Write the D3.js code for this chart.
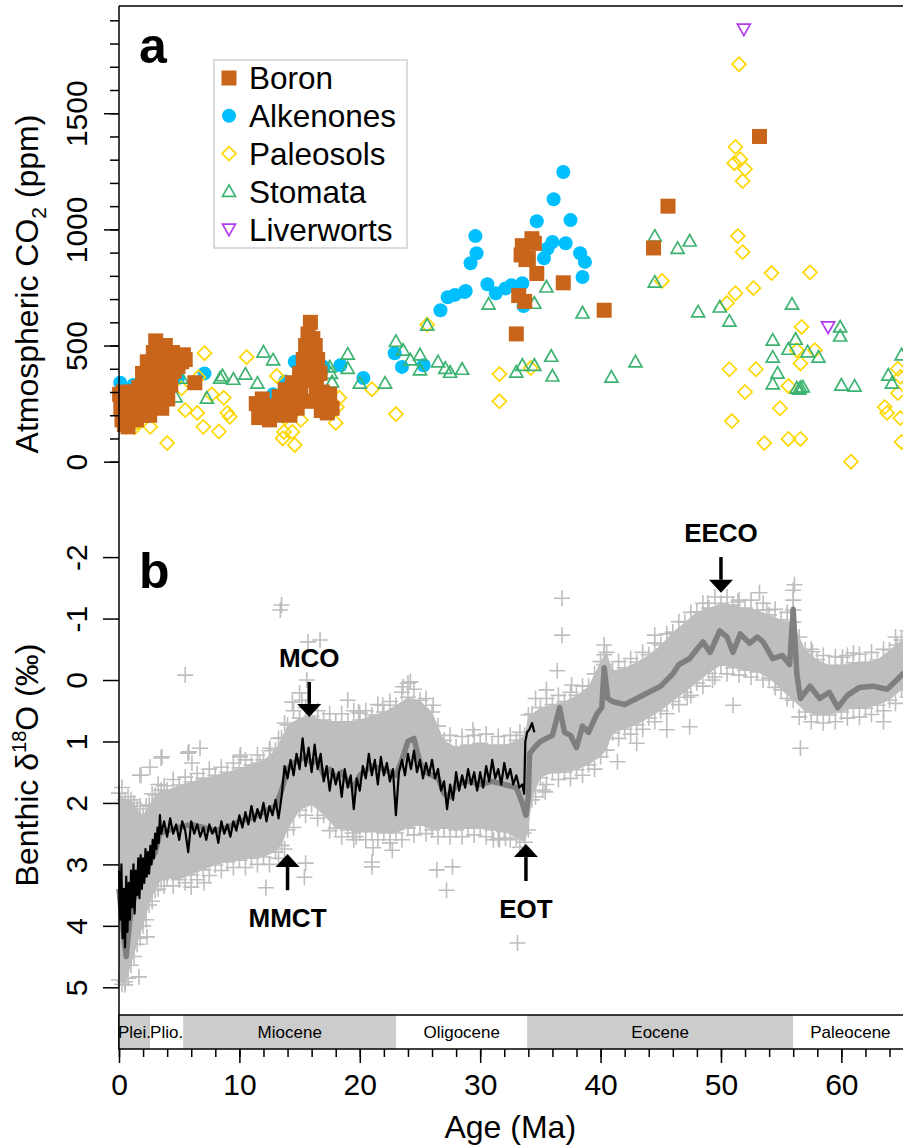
<!DOCTYPE html>
<html>
<head>
<meta charset="utf-8">
<title>Cenozoic CO2 and benthic d18O</title>
<script src="https://d3js.org/d3.v7.min.js"></script>
<style>
  html, body { margin: 0; padding: 0; background: #fff; }
  svg { display: block; font-family: 'Liberation Sans', Arial, Helvetica, sans-serif; }
</style>
</head>
<body>
<div id="chart"></div>
<script>
'use strict';

// ---- panel a: CO2 proxies, [age (Ma), CO2 (ppm)]
var boron = [
  [0.05,290],[0.15,230],[0.25,180],[0.35,300],[0.45,160],[0.55,260],[0.65,200],[0.75,150],
  [0.85,280],[0.95,240],[1.05,190],[1.15,300],[1.25,210],[1.35,270],[1.45,180],[1.55,250],
  [1.65,320],[1.75,220],[1.85,280],[1.95,380],[2.05,200],[2.15,330],[2.25,260],[2.35,430],
  [2.45,300],[2.55,200],[2.65,370],[2.75,250],[2.85,470],[2.95,320],[3.05,520],[3.15,410],
  [3.25,280],[3.35,480],[3.45,360],[3.55,230],[3.65,440],[3.75,310],[3.85,500],[3.95,380],
  [4.05,270],[4.15,420],[4.3,330],[4.45,470],[4.6,390],[4.75,440],[4.9,410],[5.05,450],
  [5.2,430],[5.35,460],[5.5,440],[6.3,340],
  [11.4,250],[11.6,190],[11.9,270],[12.2,210],[12.5,180],[12.8,240],[13.0,200],[13.3,280],
  [13.5,230],[13.8,310],[14.0,250],[14.2,200],[14.4,340],[14.6,280],[14.8,230],[15.0,380],
  [15.1,300],[15.3,440],[15.4,260],[15.5,500],[15.6,350],[15.7,550],[15.8,420],[15.9,600],
  [16.0,470],[16.1,530],[16.2,380],[16.3,500],[16.4,320],[16.5,440],[16.6,260],[16.7,380],
  [16.8,220],[16.9,300],[17.1,250],[17.3,210],[17.5,290],[17.7,230],
  [33.0,550],[33.2,715],[33.4,890],[33.5,930],[33.7,690],[33.8,870],[34.0,875],[34.3,960],
  [34.5,940],[34.7,810],[36.9,770],[40.3,652],[44.4,920],[45.6,1100],[53.2,1400]
];
var alkenones = [
  [0.1,340],[0.15,250],[0.4,300],[1.2,330],[1.0,260],[4.9,360],[5.2,460],[7.1,380],
  [12.8,290],[13.8,345],[14.6,430],[17.0,408],[18.4,415],[20.3,360],[22.9,467],[23.5,408],
  [25.3,415],[26.7,652],[27.3,708],[27.9,718],[28.7,730],[28.8,735],[29.2,854],[29.7,897],
  [29.6,971],[30.6,764],[31.3,725],[32.1,746],[32.6,760],[33.5,768],[33.6,670],[35.3,876],
  [35.6,918],[36.0,946],[34.7,1035],[36.1,1130],[36.9,1247],[37.1,940],[37.5,1040],
  [38.3,897],[38.7,860],[38.5,795]
];
var paleosols = [
  [0.3,180],[0.6,150],[1.3,148],[1.5,170],[2.0,200],[2.6,150],[4.0,80],[5.2,316],[5.5,222],
  [6.5,210],[6.6,364],[7.1,467],[7.0,150],[7.7,290],[8.3,130],[8.7,275],[9.0,210],[9.2,193],
  [10.6,450],[13.1,369],[13.2,235],[13.8,188],[13.7,128],[14.4,128],[14.6,72],[13.6,100],
  [15.1,180],[18.1,235],[18.3,275],[18.0,167],[17.5,265],[21.0,312],[23.0,205],[25.6,590],
  [31.6,377],[31.6,260],[34.2,403],[45.1,778],[50.5,683],[51.2,725],[52.7,747],[54.2,812],
  [57.4,815],[56.7,580],[50.7,398],[52.9,398],[52.0,300],[54.9,230],[50.9,175],[53.6,80],
  [55.6,98],[56.6,98],[60.8,0],[55.6,326],[56.6,423],[57.8,480],[56.3,480],[63.6,235],
  [63.8,210],[64.7,400],[64.9,365],[64.7,295],[64.9,188],[65.0,85],[51.5,1711],[51.2,1355],
  [51.6,1302],[51.1,1285],[52.0,1260],[51.8,1208],[51.4,971],[51.8,902]
];
var stomata = [
  [4.7,279],[5.2,360],[7.3,274],[8.4,360],[8.6,370],[9.5,355],[10.5,377],[11.5,338],
  [12.0,472],[12.8,438],[15.6,480],[17.5,408],[17.7,343],[17.6,380],[19.0,463],[19.0,402],
  [20.0,338],[22.1,338],[23.0,518],[23.6,480],[24.2,438],[25.0,460],[25.0,395],[25.6,588],
  [26.5,430],[27.1,402],[28.5,398],[27.5,385],[30.7,678],[34.5,682],[35.5,752],[38.5,640],
  [44.5,773],[44.5,971],[46.4,918],[47.4,950],[48.1,645],[49.9,666],[50.7,605],[55.9,678],
  [59.9,580],[59.9,541],[33.5,415],[34.5,415],[33.0,386],[35.9,454],[36.0,369],[40.9,364],
  [42.9,430],[54.3,523],[54.3,450],[54.7,381],[54.3,335],[56.2,527],[55.6,484],[57.2,473],
  [58.1,450],[56.3,317],[56.6,320],[56.8,322],[56.5,312],[60.0,330],[61.1,325],[63.9,373],
  [64.2,338],[65.0,460]
];
var liverworts = [[51.9,1862],[58.9,580]];

var co2Ticks = [0, 500, 1000, 1500];

// ---- panel b: benthic d18O, [age (Ma), permil]
// edge of the dense cloud of single measurements
var cloudAge = [0,0.5,1,1.5,2,2.5,3,3.5,4,5,6,7,8,9,10,11,12,13,13.5,14,15,16,17,18,19,20,21,22,
  23,24,25,26,27,28,29,30,31,32,33,33.7,34,34.3,35,36,37,38,39,40,40.5,41,42,43,44,45,46,47,
  48,49,50,51,52,53,54,55,56,57,58,59,60,61,62,63,64,65,66];
var cloudTop = [1.84,1.95,1.95,2.1,2.2,2.03,1.87,1.79,1.79,1.71,1.66,1.6,1.55,1.5,1.43,1.38,1.3,
  1.14,0.94,0.73,0.62,0.59,0.65,0.68,0.68,0.65,0.57,0.52,0.41,0.28,0.33,0.52,0.98,1.09,1.06,
  1.03,1.06,1.06,0.98,0.9,0.57,0.55,0.45,0.4,0.35,0.25,0.1,-0.3,-0.45,-0.15,-0.2,-0.29,-0.41,
  -0.57,-0.78,-0.94,-1.11,-1.17,-1.25,-1.22,-1.17,-1.14,-1.06,-0.98,-0.94,-0.49,-0.33,-0.24,
  -0.24,-0.28,-0.29,-0.33,-0.49,-0.65,-0.73];
var cloudBot = [4.88,4.96,4.64,4.3,4.0,3.66,3.42,3.25,3.22,3.25,3.17,3.09,3.01,2.96,2.93,2.9,
  2.88,2.8,2.69,2.44,2.12,2.03,2.2,2.41,2.44,2.47,2.47,2.49,2.49,2.41,2.36,2.44,2.41,2.44,
  2.41,2.41,2.44,2.47,2.57,2.64,2.44,1.95,1.59,1.51,1.5,1.46,1.38,1.25,1.14,0.86,0.8,0.73,
  0.62,0.5,0.35,0.2,0.05,-0.11,-0.24,-0.2,-0.16,-0.13,-0.03,0.16,0.33,0.52,0.57,0.57,0.52,
  0.46,0.46,0.41,0.33,0.16,0.13];
// ragged fringe of crosses just outside the dense cloud
var fringeAge = [0.25,0.75,1.25,1.75,2.25,2.75,3.25,3.75,4.5,5.5,6.5,7.5,8.5,9.5,10.5,11.5,12.5,
  13.25,13.75,14.5,15.5,16.5,17.5,18.5,19.5,20.5,21.5,22.5,23.5,24.5,25.5,26.5,27.5,28.5,29.5,
  30.5,31.5,32.5,33.3,34.6,35.5,36.5,37.5,38.5,39.5,41.5,42.5,43.5,44.5,45.5,46.5,47.5,48.5,
  49.5,50.5,51.5,52.5,53.5,54.5,55.5,56.5,57.5,58.5,59.5,60.5,61.5,62.5,63.5,64.5,65.5];
var fringeTop = [1.75,1.9,2.0,2.05,2.05,1.85,1.7,1.72,1.62,1.58,1.52,1.45,1.42,1.35,1.3,1.22,1.15,
  0.95,0.7,0.5,0.45,0.5,0.55,0.55,0.5,0.5,0.4,0.35,0.2,0.15,0.3,0.75,0.9,0.92,0.9,0.88,0.92,
  0.9,0.85,0.3,0.3,0.25,0.2,0.1,-0.1,-0.3,-0.35,-0.45,-0.6,-0.75,-0.95,-1.1,-1.25,-1.35,
  -1.35,-1.3,-1.3,-1.25,-1.15,-1.1,-0.7,-0.5,-0.4,-0.38,-0.4,-0.42,-0.45,-0.5,-0.7,-0.8];
var fringeBot = [4.95,4.85,4.5,4.2,3.9,3.6,3.4,3.35,3.35,3.3,3.25,3.18,3.1,3.05,3.05,3.0,3.0,
  2.9,2.75,2.4,2.2,2.25,2.45,2.55,2.6,2.6,2.6,2.6,2.6,2.52,2.5,2.55,2.55,2.55,2.52,2.55,2.58,
  2.6,2.72,1.9,1.7,1.62,1.6,1.55,1.45,0.95,0.88,0.8,0.68,0.55,0.4,0.25,0.1,-0.05,-0.1,-0.08,
  -0.05,0.0,0.12,0.3,0.6,0.68,0.7,0.68,0.62,0.6,0.56,0.5,0.38,0.28];
// single measurements lying well outside the dense cloud
var crossOut = [
  [13.4,-1.14],[13.5,-1.22],[15.7,-0.62],[16.7,-0.65],[5.5,-0.08],[15.6,0.0],[15.0,0.21],
  [14.4,0.36],[19.0,0.33],[19.9,0.52],[21.9,0.41],[23.6,0.11],[24.0,0.05],[26.1,0.41],
  [1.74,1.55],[2.57,1.42],[3.57,1.25],[5.73,1.19],[6.73,1.11],[6.06,1.35],[10.05,1.25],
  [12.54,1.11],[11.7,1.35],[36.8,-1.33],[36.8,-0.73],[36.4,-0.15],[37.6,0.08],[35.5,0.16],
  [44.5,-0.73],[53.2,-1.42],[53.8,-1.14],[56.1,-1.55],[51.4,-1.27],[48.9,-1.25],[56.6,1.11],
  [51.0,0.41],[49.3,0.0],[47.2,0.28],[47.4,0.76],[45.5,0.81],[43.0,1.03],[41.4,1.33],
  [35.2,1.79],[61.0,-0.44],[63.5,0.68],[64.6,-0.57],[60.1,-0.37],[57.6,-0.46],[20.0,0.54],
  [24.2,0.03],[21.0,3.04],[21.1,2.73],[22.5,2.65],[26.4,3.09],[27.7,3.04],[19.4,2.49],
  [31.6,2.6],[33.6,2.49],[29.4,0.81],[3.49,1.27],[1.83,1.55],[5.8,1.17],[10.1,1.22],
  [15.2,0.33],[1.66,4.83],[2.33,4.18],[6.0,3.37],[7.06,3.3],[12.2,3.38],[15.4,3.21],
  [15.5,2.98],[21.0,2.96],[19.7,2.55],[22.7,2.77],[0.5,4.91],[27.2,3.42],[35.4,1.82],
  [33.1,4.28],[32.1,2.57],[31.1,2.6],[40.3,-0.57],[40.3,-0.41],[40.3,-0.25],[56.0,-1.46],
  [56.0,-1.3],[56.0,-1.14]
];
// smoothed record (dark grey)
var smooth = [
  [0,3.4],[0.3,4.0],[0.6,4.5],[0.9,3.9],[1.2,3.6],[1.6,3.3],[2.0,3.2],[2.5,3.0],[3.0,2.8],
  [3.4,2.5],[4.0,2.45],[5.0,2.4],[6.0,2.35],[7.0,2.4],[8.0,2.45],[9.0,2.4],[10.0,2.3],
  [11.0,2.25],[12.0,2.15],[13.0,2.05],[13.5,1.8],[14.0,1.45],[14.5,1.35],[15.0,1.3],
  [15.5,1.25],[16.0,1.35],[16.5,1.3],[17.0,1.55],[17.5,1.45],[18.0,1.6],[18.5,1.5],
  [19.0,1.65],[19.5,1.75],[20.0,1.55],[21.0,1.4],[22.0,1.45],[23.0,1.55],[23.5,1.3],
  [24.0,1.0],[24.5,0.95],[25.0,1.35],[25.5,1.5],[26.0,1.55],[26.5,1.6],[27.0,1.85],
  [27.5,1.9],[28.0,1.7],[29.0,1.65],[30.0,1.7],[31.0,1.65],[32.0,1.7],[33.0,1.75],
  [33.5,2.0],[33.8,2.2],[34.0,1.9],[34.1,1.2],[34.5,1.1],[35.0,1.0],[35.5,0.95],[36.0,0.9],
  [36.6,0.45],[37.0,0.85],[37.5,0.9],[38.0,1.1],[38.5,0.75],[39.0,0.85],[39.7,0.55],
  [40.1,0.45],[40.3,-0.2],[40.6,0.3],[41.0,0.35],[42.0,0.4],[43.0,0.3],[44.0,0.2],[45.0,0.1],
  [46.0,-0.1],[46.5,-0.25],[47.4,-0.35],[48.0,-0.5],[48.5,-0.62],[49.1,-0.45],[49.9,-0.8],
  [50.5,-0.7],[51.0,-0.45],[51.6,-0.75],[52.4,-0.6],[53.0,-0.7],[53.5,-0.62],[54.3,-0.35],
  [55.1,-0.4],[55.7,-0.25],[56.0,-1.15],[56.3,-0.1],[56.6,0.3],[57.4,0.1],[58.2,0.3],
  [59.0,0.2],[59.7,0.45],[60.5,0.25],[61.5,0.12],[62.6,0.1],[63.8,0.15],[64.6,0.0],
  [65.1,-0.1],[66,-0.15]
];
// high resolution record (black), 0-34.5 Ma
var highRes = [
  [0.0,3.1],[0.1,3.9],[0.2,3.0],[0.3,4.2],[0.4,3.4],[0.5,4.35],[0.6,3.2],[0.7,4.1],[0.8,3.3],
  [0.9,3.9],[1.0,3.1],[1.1,3.7],[1.2,3.0],[1.3,3.8],[1.4,3.1],[1.5,3.5],[1.6,2.9],[1.7,3.55],
  [1.8,2.85],[1.9,3.4],[2.0,2.9],[2.1,3.3],[2.2,2.75],[2.3,3.2],[2.4,2.8],[2.5,3.15],
  [2.6,2.7],[2.7,3.0],[2.8,2.6],[2.9,2.9],[3.0,2.5],[3.1,2.75],[3.2,2.4],[3.3,2.65],
  [3.4,2.2],[3.5,2.5],[3.75,2.3],[4.0,2.55],[4.25,2.25],[4.5,2.5],[4.75,2.35],[5.0,2.6],
  [5.25,2.3],[5.5,2.45],[5.75,2.8],[6.0,2.3],[6.25,2.5],[6.5,2.35],[6.75,2.55],[7.0,2.4],
  [7.25,2.6],[7.5,2.35],[7.75,2.5],[8.0,2.4],[8.25,2.65],[8.5,2.3],[8.75,2.5],[9.0,2.35],
  [9.25,2.55],[9.5,2.3],[9.75,2.45],[10.0,2.2],[10.25,2.4],[10.5,2.15],[10.75,2.35],
  [11.0,2.05],[11.25,2.3],[11.5,2.1],[11.75,2.25],[12.0,2.0],[12.25,2.3],[12.5,2.05],
  [12.75,2.2],[13.0,1.95],[13.25,2.25],[13.5,1.9],[13.75,1.4],[14.0,1.6],[14.25,1.3],
  [14.5,1.55],[14.75,1.2],[15.0,1.45],[15.25,0.95],[15.5,1.4],[15.75,1.1],[16.0,1.5],
  [16.25,1.05],[16.5,1.45],[16.75,1.2],[17.0,1.65],[17.25,1.4],[17.5,1.8],[17.75,1.45],
  [18.0,1.7],[18.25,1.5],[18.5,1.9],[18.75,1.45],[19.0,1.75],[19.25,1.55],[19.5,2.1],
  [19.75,1.6],[20.0,1.8],[20.25,1.4],[20.5,1.6],[20.75,1.2],[21.0,1.55],[21.25,1.3],
  [21.5,1.7],[21.75,1.25],[22.0,1.55],[22.25,1.35],[22.5,1.65],[22.75,1.45],[23.0,2.2],
  [23.25,1.5],[23.5,1.3],[23.75,1.55],[24.0,1.2],[24.25,1.45],[24.5,1.15],[24.75,1.5],
  [25.0,1.3],[25.25,1.6],[25.5,1.35],[25.75,1.55],[26.0,1.3],[26.25,1.6],[26.5,1.45],
  [26.75,1.8],[27.0,1.65],[27.25,2.1],[27.5,1.7],[27.75,1.95],[28.0,1.5],[28.25,1.8],
  [28.5,1.55],[28.75,1.75],[29.0,1.45],[29.25,1.7],[29.5,1.5],[29.75,1.8],[30.0,1.5],
  [30.25,1.75],[30.5,1.4],[30.75,1.65],[31.0,1.3],[31.25,1.6],[31.5,1.45],[31.75,1.7],
  [32.0,1.35],[32.25,1.6],[32.5,1.45],[32.75,1.7],[33.0,1.55],[33.25,1.75],[33.5,1.7],
  [33.65,1.85],[33.75,1.0],[33.9,0.85],[34.1,0.8],[34.3,0.7],[34.5,0.85]
];
var d18oTicks = [-2, -1, 0, 1, 2, 3, 4, 5];

// events: label, age, arrow tail, arrow tip (permil)
var eventNames = ['MCO', 'EECO', 'MMCT', 'EOT'];
var eventAges = [15.8, 50.0, 14.0, 33.8];
var eventTail = [0.03, -2.0, 3.42, 3.27];
var eventTip = [0.60, -1.42, 2.83, 2.67];

// ---- time scale
var epochNames = ['Plei.', 'Plio.', 'Miocene', 'Oligocene', 'Eocene', 'Paleocene'];
var epochBounds = [0, 2.58, 5.33, 23.03, 33.9, 56, 65.5];
var ageTicks = [0, 10, 20, 30, 40, 50, 60];

var W = 903, H = 1146;
var svg = d3.select('#chart').append('svg').attr('width', W).attr('height', H);

var x = d3.scaleLinear().domain([0, 66]).range([119, 913.6]);
var yA = d3.scaleLinear().domain([0, 1900]).range([461.7, 20.3]);
var yB = d3.scaleLinear().domain([-2, 5]).range([557.1, 987.3]);

var COLORS = {
  boron: '#c8651b', alk: '#00bfff', paleo: '#ffd700', stom: '#3cb371',
  liver: '#b23aee', cross: '#bebebe', smooth: '#7f7f7f'
};

/**
 * Panel b: cloud, crosses, smoothed and high-res records
 */
var gB = svg.append('g');

var cloud = cloudAge.map(function(a, i) { return [a, cloudTop[i], cloudBot[i]]; });
gB.append('path')
  .datum(cloud)
  .attr('fill', COLORS.cross)
  .attr('d', d3.area()
    .x(function(d) { return x(d[0]); })
    .y0(function(d) { return yB(d[2]); })
    .y1(function(d) { return yB(d[1]); }));

var allCrosses = cloud.map(function(d) { return [d[0], d[1]]; })
  .concat(cloud.map(function(d) { return [d[0], d[2]]; }))
  .concat(fringeAge.map(function(a, i) { return [a, fringeTop[i]]; }))
  .concat(fringeAge.map(function(a, i) { return [a, fringeBot[i]]; }))
  .concat(crossOut);

gB.selectAll('path.cross')
  .data(allCrosses)
  .enter().append('path')
  .attr('class', 'cross')
  .attr('transform', function(d) { return 'translate(' + x(d[0]) + ',' + yB(d[1]) + ')'; })
  .attr('d', 'M-8,0H8M0,-8V8')
  .attr('stroke', COLORS.cross)
  .attr('stroke-width', 1.6)
  .attr('fill', 'none');

var line = d3.line()
  .x(function(d) { return x(d[0]); })
  .y(function(d) { return yB(d[1]); });

gB.append('path').datum(smooth)
  .attr('d', line)
  .attr('fill', 'none')
  .attr('stroke', COLORS.smooth)
  .attr('stroke-width', 5.5)
  .attr('stroke-linejoin', 'round');

gB.append('path').datum(highRes)
  .attr('d', line)
  .attr('fill', 'none')
  .attr('stroke', '#000')
  .attr('stroke-width', 2.2)
  .attr('stroke-linejoin', 'round');

// event arrows
eventNames.forEach(function(name, i) {
  var ax = x(eventAges[i]),
    tail = yB(eventTail[i]),
    tip = yB(eventTip[i]),
    dir = tip > tail ? 1 : -1, // 1 = pointing down
    base = tip - dir * 13;
  gB.append('line')
    .attr('x1', ax).attr('x2', ax)
    .attr('y1', tail).attr('y2', base)
    .attr('stroke', '#000').attr('stroke-width', 3.5);
  gB.append('path')
    .attr('d', 'M' + (ax - 12) + ',' + base + 'L' + (ax + 12) + ',' + base + 'L' + ax + ',' + tip + 'Z')
    .attr('fill', '#000');
  var ty = dir === 1 ? tail - 15 : tail + 37;
  gB.append('text')
    .attr('x', ax).attr('y', ty)
    .attr('text-anchor', 'middle')
    .attr('font-weight', 'bold')
    .attr('font-size', 26)
    .text(name);
});

/**
 * Panel a: CO2 proxies, drawn bottom to top
 */
var gA = svg.append('g');
var pos = function(d) { return 'translate(' + x(d[0]) + ',' + yA(d[1]) + ')'; };
var SYM = {
  square: 'M-7.5,-7.5H7.5V7.5H-7.5Z',
  diamond: 'M0,-7L7,0L0,7L-7,0Z',
  triUp: 'M0,-6.5L6.5,5L-6.5,5Z',
  triDown: 'M0,6.5L6.5,-5L-6.5,-5Z'
};

gA.selectAll('circle.alk').data(alkenones).enter().append('circle')
  .attr('class', 'alk')
  .attr('cx', function(d) { return x(d[0]); })
  .attr('cy', function(d) { return yA(d[1]); })
  .attr('r', 7).attr('fill', COLORS.alk);

function outline(data, cls, sym, color) {
  gA.selectAll('path.' + cls).data(data).enter().append('path')
    .attr('class', cls)
    .attr('transform', pos)
    .attr('d', sym)
    .attr('fill', 'none')
    .attr('stroke', color)
    .attr('stroke-width', 1.7);
}
outline(paleosols, 'paleo', SYM.diamond, COLORS.paleo);
outline(stomata, 'stom', SYM.triUp, COLORS.stom);
outline(liverworts, 'liver', SYM.triDown, COLORS.liver);

gA.selectAll('path.boron').data(boron).enter().append('path')
  .attr('class', 'boron')
  .attr('transform', pos)
  .attr('d', SYM.square)
  .attr('fill', COLORS.boron);

// legend
var legend = svg.append('g');
legend.append('rect')
  .attr('x', 214).attr('y', 60).attr('width', 193).attr('height', 188)
  .attr('fill', '#fff').attr('stroke', '#cfcfcf').attr('stroke-width', 1.5);
var legendNames = ['Boron', 'Alkenones', 'Paleosols', 'Stomata', 'Liverworts'];
legendNames.forEach(function(name, i) {
  var ly = 78 + i * 37.8;
  var g = legend.append('g').attr('transform', 'translate(229,' + ly + ')');
  if (i === 0) g.append('path').attr('d', SYM.square).attr('fill', COLORS.boron);
  if (i === 1) g.append('circle').attr('r', 7).attr('fill', COLORS.alk);
  if (i === 2) g.append('path').attr('d', SYM.diamond).attr('fill', 'none').attr('stroke', COLORS.paleo).attr('stroke-width', 1.7);
  if (i === 3) g.append('path').attr('d', SYM.triUp).attr('fill', 'none').attr('stroke', COLORS.stom).attr('stroke-width', 1.7);
  if (i === 4) g.append('path').attr('d', SYM.triDown).attr('fill', 'none').attr('stroke', COLORS.liver).attr('stroke-width', 1.7);
  legend.append('text')
    .attr('x', 249).attr('y', ly).attr('dy', '0.36em')
    .attr('font-size', 31.5)
    .text(name);
});

/**
 * Frame, axes and time scale
 */
svg.append('line').attr('x1', 119).attr('x2', W).attr('y1', 6).attr('y2', 6)
  .attr('stroke', '#000').attr('stroke-width', 1.5);
svg.append('line').attr('x1', 119).attr('x2', 119).attr('y1', 6).attr('y2', 1049)
  .attr('stroke', '#000').attr('stroke-width', 1.5);

function styleAxis(g) {
  g.select('.domain').remove();
  g.selectAll('line').attr('stroke', '#000').attr('stroke-width', 1.5);
}
function rotateLabels(g) {
  g.selectAll('text')
    .attr('x', 0).attr('y', -32).attr('dy', null)
    .attr('text-anchor', 'middle')
    .attr('transform', 'rotate(-90)')
    .attr('font-size', 30)
    .attr('fill', '#000');
}

svg.append('g').attr('transform', 'translate(119,0)')
  .call(d3.axisLeft(yA).tickValues(d3.range(0, 1901, 100)).tickSize(9).tickFormat(''))
  .call(styleAxis);
svg.append('g').attr('transform', 'translate(119,0)')
  .call(d3.axisLeft(yA).tickValues(co2Ticks).tickSize(15).tickFormat(function(d) { return String(d); }))
  .call(styleAxis).call(rotateLabels);
svg.append('g').attr('transform', 'translate(119,0)')
  .call(d3.axisLeft(yB).tickValues(d18oTicks).tickSize(16).tickFormat(function(d) { return String(d); }))
  .call(styleAxis).call(rotateLabels);

// axis titles
var tA = svg.append('text')
  .attr('transform', 'translate(38,284) rotate(-90)')
  .attr('text-anchor', 'middle').attr('font-size', 32);
tA.append('tspan').text('Atmospheric CO');
tA.append('tspan').attr('font-size', 21).attr('dy', 8).text('2');
tA.append('tspan').attr('dy', -8).text(' (ppm)');

var tB = svg.append('text')
  .attr('transform', 'translate(38,765) rotate(-90)')
  .attr('text-anchor', 'middle').attr('font-size', 32);
tB.append('tspan').text('Benthic \u03b4');
tB.append('tspan').attr('font-size', 20).attr('dy', -12).text('18');
tB.append('tspan').attr('dy', 12).text('O (\u2030)');

// panel letters
svg.append('text').attr('x', 139).attr('y', 63)
  .attr('font-size', 50).attr('font-weight', 'bold').text('a');
svg.append('text').attr('x', 139).attr('y', 588)
  .attr('font-size', 50).attr('font-weight', 'bold').text('b');

// time scale band
var tsTop = 1015, tsBot = 1049;
var epochs = epochNames.map(function(n, i) { return { name: n, a0: epochBounds[i], a1: epochBounds[i + 1] }; });
svg.selectAll('rect.epoch').data(epochs).enter().append('rect')
  .attr('class', 'epoch')
  .attr('x', function(d) { return x(d.a0); })
  .attr('width', function(d) { return x(d.a1) - x(d.a0); })
  .attr('y', tsTop).attr('height', tsBot - tsTop)
  .attr('fill', function(d, i) { return i % 2 === 0 ? '#cccccc' : '#ffffff'; });
svg.append('rect')
  .attr('x', 119).attr('y', tsTop).attr('width', x(66) - 119).attr('height', tsBot - tsTop)
  .attr('fill', 'none').attr('stroke', '#000').attr('stroke-width', 1.5);
svg.selectAll('text.epoch').data(epochs).enter().append('text')
  .attr('class', 'epoch')
  .attr('x', function(d) { return x((d.a0 + d.a1) / 2); })
  .attr('y', (tsTop + tsBot) / 2).attr('dy', '0.36em')
  .attr('text-anchor', 'middle').attr('font-size', 17)
  .text(function(d) { return d.name; });

// age axis
svg.append('g').attr('transform', 'translate(0,' + tsBot + ')')
  .call(d3.axisBottom(x).tickValues(d3.range(0, 67, 2)).tickSize(8).tickFormat(''))
  .call(styleAxis);
svg.append('g').attr('transform', 'translate(0,' + tsBot + ')')
  .call(d3.axisBottom(x).tickValues(ageTicks).tickSize(14).tickFormat(function(d) { return String(d); }))
  .call(styleAxis)
  .call(function(g) {
    g.selectAll('text').attr('y', 25).attr('font-size', 30).attr('fill', '#000');
  });
svg.append('text')
  .attr('x', x(32.5)).attr('y', 1138)
  .attr('text-anchor', 'middle').attr('font-size', 32)
  .text('Age (Ma)');
</script>
</body>
</html>
